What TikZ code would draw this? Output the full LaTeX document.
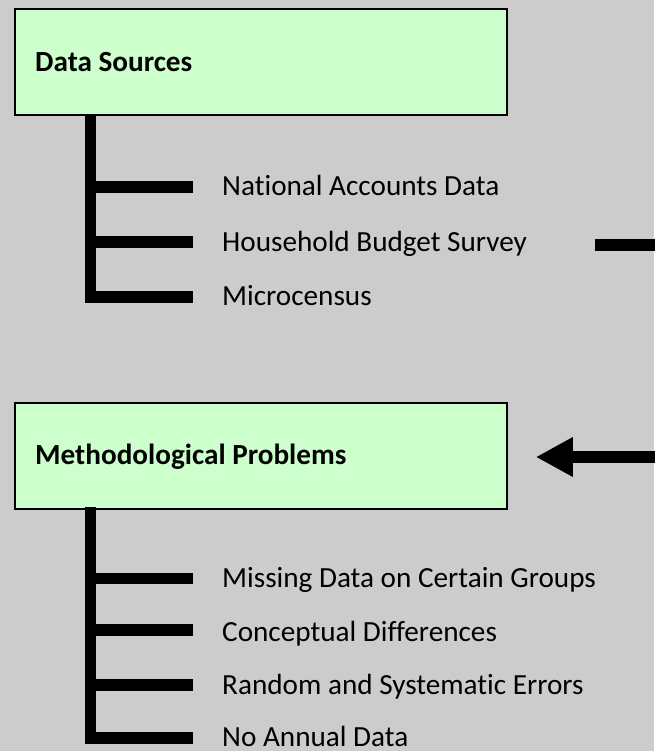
\documentclass[tikz,border=0pt]{standalone}
\usepackage{fontspec}
\setmainfont{Carlito}[Ligatures=NoCommon]
\usetikzlibrary{arrows.meta}
\definecolor{canvas}{RGB}{204,204,204}
\definecolor{boxgreen}{RGB}{204,255,204}
\tikzset{
  headbox/.style={draw=black, line width=1.8pt, fill=boxgreen, anchor=north west,
    minimum width=492pt, minimum height=106pt, inner sep=0pt},
  headtext/.style={anchor=base west, inner sep=0pt, font=\fontsize{29.2}{33}\selectfont\bfseries},
  itemtext/.style={anchor=base west, inner sep=0pt, font=\fontsize{29.2}{34}\selectfont},
  trunk/.style={line width=11.5pt, line join=miter, line cap=butt},
  branch/.style={line width=11.5pt, line cap=butt},
  fatline/.style={line width=12.5pt, line cap=butt},
  fatarrow/.style={line width=12.5pt, line cap=butt, -{Triangle[length=37pt, width=37pt]}},
}
\begin{document}
\begin{tikzpicture}[x=1pt, y=-1pt]
  % canvas
  \fill[canvas] (0,0) rectangle (654,751);
  \useasboundingbox (0,0) rectangle (654,751);

  % --- Data Sources ---
  \node[headbox] (ds) at (14,8.5) {};
  \node[headtext] (dst) at (35,72) {Data Sources};
  \coordinate (dsroot) at (90.5,115);
  \node[itemtext] (nad) at (222,195.5) {National Accounts Data};
  \node[itemtext] (hbs) at (222,251) {Household Budget Survey};
  \node[itemtext] (mc)  at (222,305.5) {Microcensus};
  \coordinate (nadend) at (193,187);
  \coordinate (hbsend) at (193,242);
  \coordinate (mcend)  at (193,297);
  \draw[trunk] (dsroot) -- (dsroot |- mcend) -- (mcend);
  \draw[branch] (dsroot |- nadend) -- (nadend);
  \draw[branch] (dsroot |- hbsend) -- (hbsend);

  % --- Methodological Problems ---
  \node[headbox] (mp) at (14,402) {};
  \node[headtext] (mpt) at (35,464) {Methodological Problems};
  \coordinate (mproot) at (90.5,507);
  \node[itemtext] (mdg) at (222,587.5) {Missing Data on Certain Groups};
  \node[itemtext] (cd)  at (222,641) {Conceptual Differences};
  \node[itemtext] (rse) at (222,694.5) {Random and Systematic Errors};
  \node[itemtext] (nod) at (222,746.5) {No Annual Data};
  \coordinate (mdgend) at (193,578.5);
  \coordinate (cdend)  at (193,630);
  \coordinate (rseend) at (193,685);
  \coordinate (nodend) at (193,738);
  \draw[trunk] (mproot) -- (mproot |- nodend) -- (nodend);
  \draw[branch] (mproot |- mdgend) -- (mdgend);
  \draw[branch] (mproot |- cdend) -- (cdend);
  \draw[branch] (mproot |- rseend) -- (rseend);

  % --- links on the right ---
  \coordinate (outstart) at (595,245);
  \coordinate (outend) at (660,245);
  \draw[fatline] (outstart) -- (outend);
  \coordinate (backin) at (660,457);
  \draw[fatarrow, shorten >=28pt] (backin) -- (backin -| mp.east);
\end{tikzpicture}
\end{document}
